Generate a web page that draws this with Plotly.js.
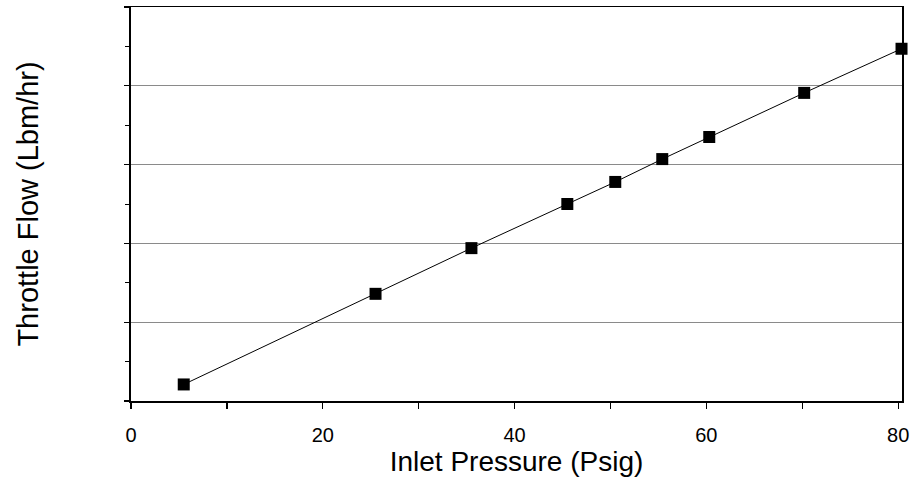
<!DOCTYPE html>
<html>
<head>
<meta charset="utf-8">
<script src="https://cdn.plot.ly/plotly-3.0.1.min.js"></script>
<style>html,body{margin:0;padding:0;background:#fff;}#chart{width:910px;height:483px;}</style>
</head>
<body>
<div id="chart"></div>
<script>
// Inlet pressure (psig) and throttle flow (read in grid units; the y axis carries no numbers)
const inletPressure = [5.5, 25.5, 35.5, 45.5, 50.5, 55.4, 60.3, 70.2, 80.35];
const throttleFlow  = [0.21, 1.36, 1.94, 2.50, 2.78, 3.07, 3.35, 3.91, 4.47];
const xTickVals = [0, 10, 20, 30, 40, 50, 60, 70, 80];
const xTickText = ['0', '', '20', '', '40', '', '60', '', '80'];
const yTickVals = [0, 1, 2, 3, 4, 5];

const font = 'Liberation Sans, Arial, sans-serif';

const trace = {
  x: inletPressure, y: throttleFlow,
  type: 'scatter', mode: 'lines+markers',
  line: {color: '#000', width: 1},
  marker: {symbol: 'square', size: 12, color: '#000'},
  cliponaxis: false, showlegend: false
};

const layout = {
  width: 910, height: 483,
  margin: {l: 131, r: 8, t: 7, b: 82},
  paper_bgcolor: '#fff', plot_bgcolor: '#fff',
  font: {family: font, color: '#000'},
  xaxis: {
    range: [0, 80.4], tickmode: 'array', tickvals: xTickVals, ticktext: xTickText,
    ticks: 'outside', ticklen: 6, tickwidth: 1.2, tickcolor: '#000',
    ticklabelstandoff: 9,
    showline: true, linecolor: '#000', linewidth: 1.5, mirror: true,
    showgrid: false, zeroline: false,
    tickfont: {size: 20, family: font, color: '#000'},
    title: {text: 'Inlet Pressure (Psig)', font: {size: 28, family: font, color: '#000'}, standoff: 7}
  },
  yaxis: {
    range: [0, 5], tickmode: 'array', tickvals: yTickVals,
    ticks: 'outside', ticklen: 5, tickwidth: 1.2, tickcolor: '#000',
    minor: {dtick: 0.5, tick0: 0, ticks: 'outside', ticklen: 4, tickwidth: 1, tickcolor: '#000'},
    showticklabels: false,
    showline: true, linecolor: '#000', linewidth: 2, mirror: true,
    showgrid: true, gridcolor: '#8a8a8a', gridwidth: 1, zeroline: false,
    title: {text: 'Throttle Flow (Lbm/hr)', font: {size: 29, family: font, color: '#000'}, standoff: 77}
  },
  xaxis2: {
    overlaying: 'x', anchor: 'y', side: 'bottom', range: [0, 80.4],
    tickmode: 'array', tickvals: xTickVals, ticks: 'inside', ticklen: 5, tickwidth: 1.2, tickcolor: '#000',
    showticklabels: false, showline: false, showgrid: false, zeroline: false
  },
  yaxis2: {
    overlaying: 'y', anchor: 'x', side: 'left', range: [0, 5],
    tickmode: 'array', tickvals: yTickVals, ticks: 'inside', ticklen: 4, tickwidth: 1.2, tickcolor: '#000',
    minor: {dtick: 0.5, tick0: 0, ticks: 'inside', ticklen: 3, tickwidth: 1, tickcolor: '#000'},
    showticklabels: false, showline: false, showgrid: false, zeroline: false
  }
};

Plotly.newPlot('chart', [trace], layout, {displayModeBar: false, staticPlot: true});
</script>
</body>
</html>
